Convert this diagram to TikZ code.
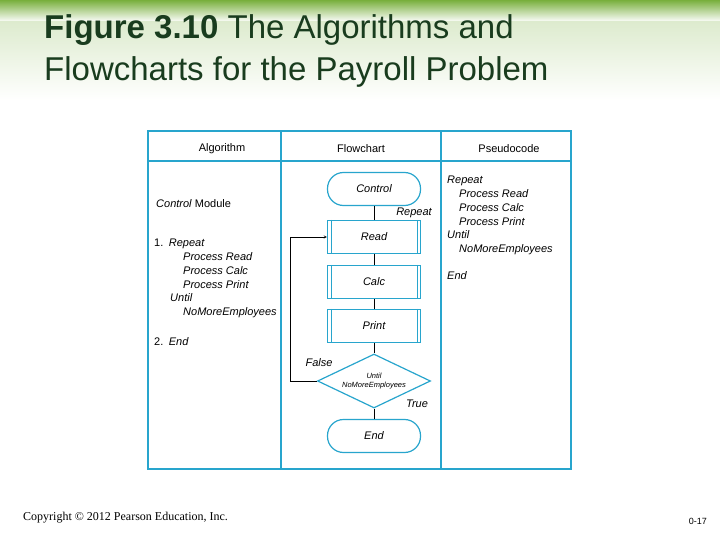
\documentclass[tikz,border=0pt]{standalone}
\usepackage{fontspec}
\setmainfont{Liberation Sans}
\newfontfamily\serifcopy{Liberation Serif}
\usetikzlibrary{shapes.geometric, arrows}
\definecolor{tblue}{RGB}{40,165,205}
\definecolor{titlegreen}{RGB}{25,60,30}
\definecolor{bargreen}{RGB}{120,175,60}
\tikzstyle{terminal} = [rectangle, rounded corners=16pt, minimum width=93pt, minimum height=33pt, text centered, draw=tblue, very thick, font=\itshape\fontsize{11}{12}\selectfont]
\tikzstyle{subproc} = [rectangle, minimum width=93pt, minimum height=33pt, text centered, draw=tblue, very thick, font=\itshape\fontsize{11}{12}\selectfont,
  append after command={\pgfextra{\let\mynode\tikzlastnode}
    (\mynode.north west) ++(4pt,0) edge[tblue,thick] ++(0,-33pt)
    (\mynode.north east) ++(-4pt,0) edge[tblue,thick] ++(0,-33pt)}]
\tikzstyle{decision} = [diamond, aspect=2.1, minimum width=113pt, minimum height=54pt, inner sep=0pt, text centered, draw=tblue, very thick, align=center, font=\itshape\fontsize{7.5}{9}\selectfont]
\tikzstyle{arrow} = [->,>=stealth]
\tikzstyle{smalltext} = [font=\fontsize{11}{13.8}\selectfont, anchor=west, align=left, inner sep=0pt]
\tikzstyle{flowlabel} = [font=\itshape\fontsize{11}{12}\selectfont]

\begin{document}
\begin{tikzpicture}[x=1pt,y=-1pt]
\useasboundingbox (0,0) rectangle (720,540);
\shade[top color=bargreen, bottom color=white] (0,0) rectangle (720,22);
\fill[white] (0,22) rectangle (720,540);
\shade[top color=bargreen!25, bottom color=white] (0,22) rectangle (720,100);

% title
\node (title) [anchor=north west, align=left, text=titlegreen, font=\fontsize{33}{42}\selectfont, inner sep=0pt] at (44,14)
  {\textbf{Figure 3.10} The Algorithms and\\Flowcharts for the Payroll Problem};

% table
\draw[tblue, very thick] (148,131) rectangle (571,469);
\draw[tblue, very thick] (148,161) -- (571,161);
\draw[tblue, very thick] (281,131) -- (281,469);
\draw[tblue, very thick] (441,131) -- (441,469);
\node (halg) [font=\fontsize{11}{12}\selectfont] at (222,149) {Algorithm};
\node (hflow) [font=\fontsize{11}{12}\selectfont] at (361,149) {Flowchart};
\node (hpseudo) [font=\fontsize{11}{12}\selectfont] at (509,149) {Pseudocode};

% algorithm column
\node (ctrlmod) [smalltext] at (156,204) {\textit{Control} Module};
\node (step1) [smalltext, anchor=north west] at (154,239)
  {1.\enspace\textit{Repeat}\\
   \hspace{29pt}\textit{Process Read}\\
   \hspace{29pt}\textit{Process Calc}\\
   \hspace{29pt}\textit{Process Print}\\
   \hspace{16pt}\textit{Until}\\
   \hspace{29pt}\textit{NoMoreEmployees}};
\node (step2) [smalltext] at (154,342) {2.\enspace\textit{End}};

% pseudocode column
\node (pseudo) [smalltext, anchor=north west] at (447,176)
  {\textit{Repeat}\\
   \hspace{12pt}\textit{Process Read}\\
   \hspace{12pt}\textit{Process Calc}\\
   \hspace{12pt}\textit{Process Print}\\
   \textit{Until}\\
   \hspace{12pt}\textit{NoMoreEmployees}\\[13pt]
   \textit{End}};

% flowchart
\node (control) [terminal] at (374,189) {Control};
\node (read) [subproc] at (374,237) {Read};
\node (calc) [subproc] at (374,282) {Calc};
\node (print) [subproc] at (374,326) {Print};
\node (until) [decision] at (374,381) {Until\\NoMoreEmployees};
\node (end) [terminal] at (374,436) {End};
\coordinate (loop) at (290,381);

\draw (control) -- (read);
\draw (read) -- (calc);
\draw (calc) -- (print);
\draw (print) -- (until);
\draw (until) -- (end);
\draw [arrow] (until.west) -- (loop) |- (read.west);

\node (lrepeat) [flowlabel] at (414,213) {Repeat};
\node (lfalse) [flowlabel] at (319,363) {False};
\node (ltrue) [flowlabel] at (417,404) {True};

% footer
\node (copy) [anchor=west, inner sep=0pt, font=\serifcopy\fontsize{12}{13}\selectfont] at (23,518) {Copyright \copyright{} 2012 Pearson Education, Inc.};
\node (pg) [anchor=east, inner sep=0pt, font=\fontsize{9}{10}\selectfont] at (707,521) {0-17};
\end{tikzpicture}
\end{document}
